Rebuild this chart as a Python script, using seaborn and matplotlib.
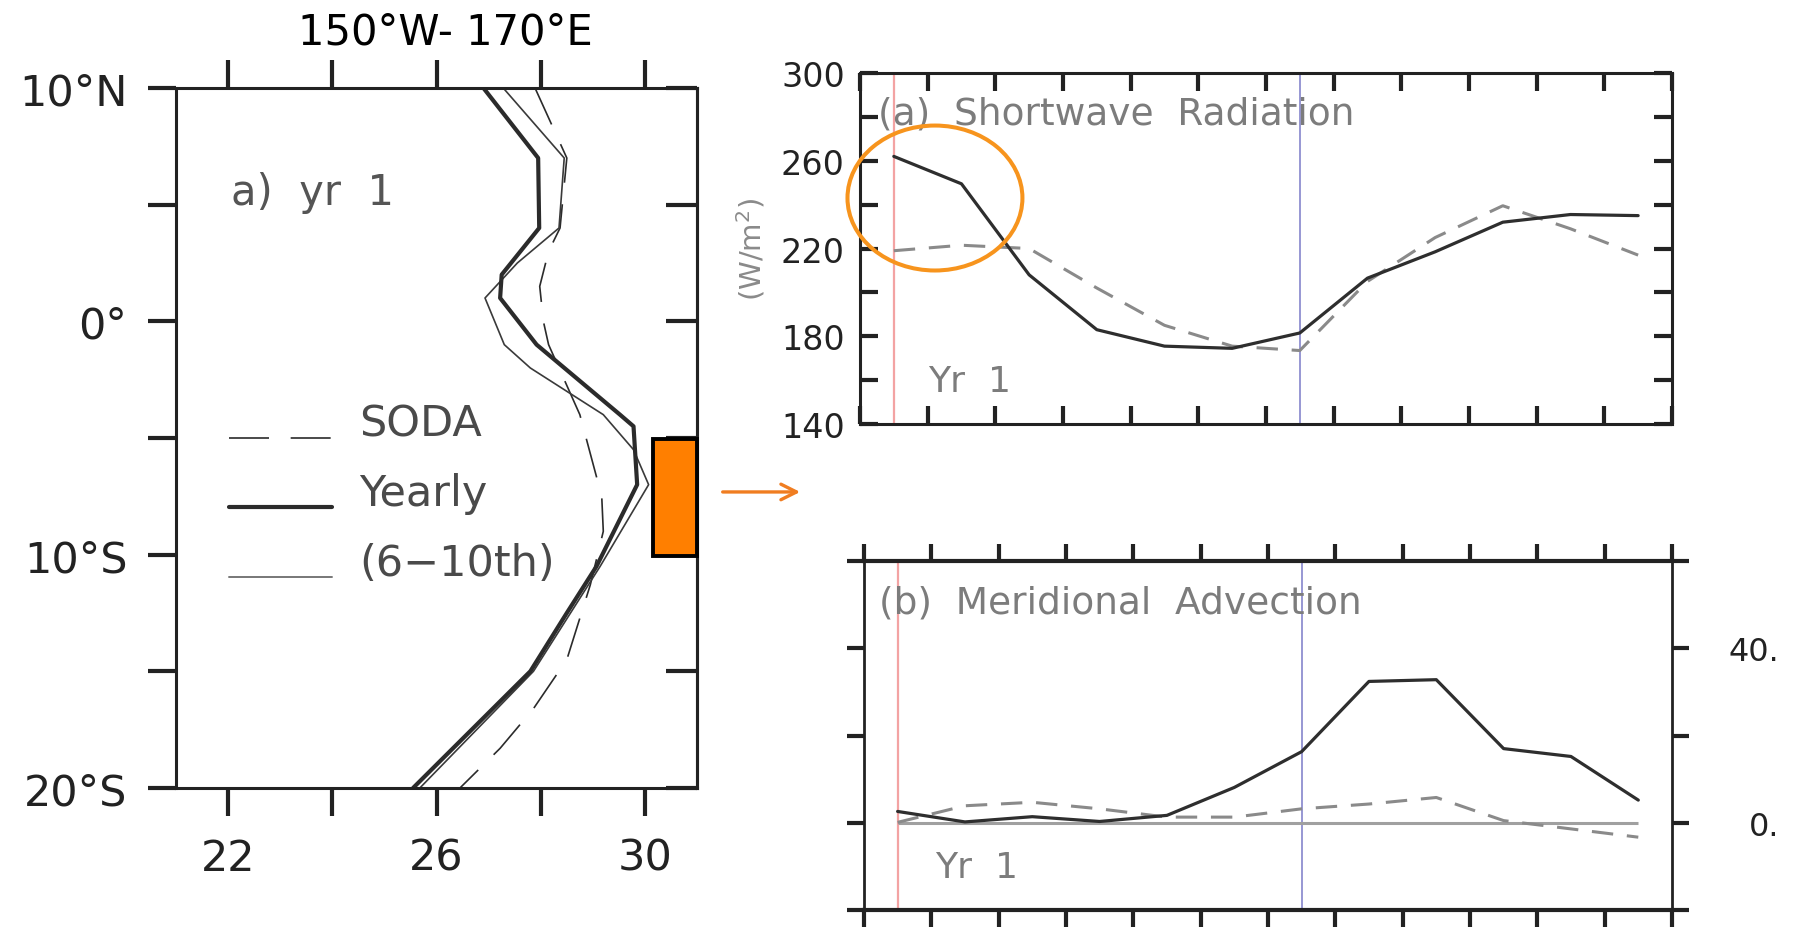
import numpy as np
import pandas as pd
import seaborn as sns
import matplotlib.pyplot as plt
from matplotlib.patches import Rectangle, Ellipse, FancyArrowPatch

# left panel: upper-ocean temperature along 150W-170E, by latitude
yearly_lat = [10, 7, 4, 2, 1, -1, -4, -4.5, -7, -10.5, -12.5, -15, -20]
yearly_sst = [26.9, 27.95, 27.97, 27.25, 27.22, 27.92, 29.52, 29.78, 29.85, 29.07, 28.5, 27.8, 25.55]
thin_lat = [10, 7, 4, 2.5, 1, -1, -2, -3, -4, -5.5, -7, -10.5, -15, -20]
thin_sst = [27.28, 28.45, 28.35, 27.55, 26.93, 27.3, 27.8, 28.5, 29.2, 29.78, 30.07, 29.14, 27.86, 25.68]
soda_lat = [10, 7, 4, 3, 1.5, 0, -1, -4, -7.5, -9, -11.3, -14.5, -16.6, -18.3, -20]
soda_sst = [27.89, 28.5, 28.37, 28.15, 27.98, 28.05, 28.15, 28.75, 29.17, 29.2, 28.95, 28.5, 27.86, 27.22, 26.45]
lat_ticks = [-20, -15, -10, -5, 0, 5, 10]
lat_labels = ['20°S', '', '10°S', '', '0°', '', '10°N']
sst_ticks = [22, 24, 26, 28, 30]
sst_labels = ['22', '', '26', '', '30']

# right panels: monthly values, year 1
months = [0.5, 1.5, 2.5, 3.5, 4.5, 5.5, 6.5, 7.5, 8.5, 9.5, 10.5, 11.5]
sw_model = [262, 249.5, 208, 183, 175.5, 174.5, 181.5, 206.5, 218.5, 232, 235.5, 235]
sw_soda = [219, 221.5, 220, 202, 185, 175.5, 173.5, 205, 225, 239.5, 229, 217]
adv_model = [2.6, 0.2, 1.4, 0.3, 1.7, 8.1, 16.3, 32.4, 32.8, 17.0, 15.2, 5.2]
adv_soda = [0.1, 3.9, 4.7, 3.2, 1.3, 1.3, 3.2, 4.3, 5.8, 0.5, -1.4, -3.3]
sw_ticks = [140, 160, 180, 200, 220, 240, 260, 280, 300]
sw_labels = ['140', '', '180', '', '220', '', '260', '', '300']
adv_ticks = [-20, 0, 20, 40, 60]
adv_labels = ['', '0.', '', '40.', '']

sns.set_style('white')
plt.rcParams['font.family'] = ['DejaVu Sans']

fig = plt.figure(figsize=(17.98, 9.37), dpi=100)
ax_l = fig.add_axes([0.0979, 0.1580, 0.2898, 0.7470])
ax_sw = fig.add_axes([0.4783, 0.5464, 0.4516, 0.3746])
ax_adv = fig.add_axes([0.4805, 0.0277, 0.4494, 0.3725])

dark = '#2b2b2b'
grey_txt = '#7c7c7c'
dash_l = (0, (24, 13))

# ---- left panel
sns.lineplot(x=soda_sst, y=soda_lat, sort=False, estimator=None, color=dark,
             lw=1.2, linestyle=dash_l, ax=ax_l, legend=False)
sns.lineplot(x=thin_sst, y=thin_lat, sort=False, estimator=None, color='#3a3a3a',
             lw=1.2, ax=ax_l, legend=False)
sns.lineplot(x=yearly_sst, y=yearly_lat, sort=False, estimator=None, color=dark,
             lw=3.0, ax=ax_l, legend=False)
ax_l.set_xlim(21, 31)
ax_l.set_ylim(-20, 10)
ax_l.set_xticks(sst_ticks)
ax_l.set_xticklabels(sst_labels)
ax_l.set_yticks(lat_ticks)
ax_l.set_yticklabels(lat_labels)
ax_l.set_xlabel('')
ax_l.set_ylabel('')
ax_l.tick_params(axis='x', direction='out', length=20, width=3, bottom=True, top=True,
                 labeltop=False, pad=15, labelsize=31, colors='#222')
ax_l.tick_params(axis='y', direction='out', length=20, width=3, left=True, right=False,
                 pad=15, labelsize=31, colors='#222')
sec = ax_l.secondary_yaxis('right')
sec.set_yticks(lat_ticks)
sec.tick_params(direction='in', length=22, width=3, labelright=False, colors='#222')
for s in ax_l.spines.values():
    s.set_linewidth(2.2)
    s.set_color('#222')
sec.spines['right'].set_linewidth(2.2)
sec.spines['right'].set_color('#222')

ax_l.text(0.105, 0.851, 'a)  yr  1', transform=ax_l.transAxes, fontsize=30,
          color='#555', ha='left', va='center')

# hand-made legend
leg = [('SODA', dict(lw=1.2, linestyle=dash_l, color=dark), 0.500),
       ('Yearly', dict(lw=3.0, color=dark), 0.401),
       ('(6\u221210th)', dict(lw=1.4, color='#777'), 0.301)]
for lab, kw, yy in leg:
    ax_l.plot([0.1017, 0.2994], [yy, yy], transform=ax_l.transAxes, **kw)
    ax_l.text(0.3512, yy + 0.021, lab, transform=ax_l.transAxes, fontsize=31,
              color='#4a4a4a', ha='left', va='center')

ax_l.add_patch(Rectangle((30.16, -10.05), 31 - 30.16, 5.0, facecolor='#ff7f00',
                         edgecolor='black', lw=2.8, clip_on=False, zorder=5))

fig.text(0.2475, 0.9658, '150°W- 170°E', ha='center', va='center', fontsize=30, color='black')

# ---- shortwave panel
ax_sw.axvline(months[0], color='#f3a3a3', lw=1.6, zorder=1)
ax_sw.axvline(months[6], color='#7a7ac8', lw=1.1, zorder=1)
sns.lineplot(x=months, y=sw_soda, color='#8a8a8a', lw=2.2, linestyle=(0, (7, 4.5)),
             ax=ax_sw, legend=False)
sns.lineplot(x=months, y=sw_model, color='#2e2e2e', lw=2.3, ax=ax_sw, legend=False)
ax_sw.set_xlim(0, 12)
ax_sw.set_ylim(140, 300)
ax_sw.set_xticks(range(0, 13))
ax_sw.set_xticklabels([])
ax_sw.set_yticks(sw_ticks)
ax_sw.set_yticklabels(sw_labels)
ax_sw.tick_params(axis='both', direction='in', length=13, width=3, bottom=True, top=True,
                  left=True, right=True, labelsize=24, pad=11, colors='#222')
for s in ax_sw.spines.values():
    s.set_linewidth(2.2)
    s.set_color('#222')
ax_sw.text(-0.134, 0.5, '(W/m$^2$)', transform=ax_sw.transAxes, rotation=90,
           fontsize=21, color='#8a8a8a', ha='center', va='center')
ax_sw.text(0.27, 281.4, '(a)  Shortwave  Radiation', fontsize=27, color=grey_txt,
           ha='left', va='center')
ax_sw.text(1.0, 159.5, 'Yr  1', fontsize=26, color=grey_txt, ha='left', va='center')

# ---- meridional advection panel
ax_adv.axvline(months[0], color='#f3a3a3', lw=1.6, zorder=1)
ax_adv.axvline(months[6], color='#7a7ac8', lw=1.1, zorder=1)
ax_adv.hlines(0, months[0], months[-1], color='#a0a0a0', lw=2.2, zorder=2)
sns.lineplot(x=months, y=adv_soda, color='#8a8a8a', lw=2.2, linestyle=(0, (7, 4.5)),
             ax=ax_adv, legend=False)
sns.lineplot(x=months, y=adv_model, color='#2e2e2e', lw=2.3, ax=ax_adv, legend=False)
ax_adv.set_xlim(0, 12)
ax_adv.set_ylim(-20, 60)
ax_adv.set_xticks(range(0, 13))
ax_adv.set_xticklabels([])
ax_adv.set_yticks(adv_ticks)
ax_adv.set_yticklabels(adv_labels)
ax_adv.tick_params(axis='both', direction='out', length=12, width=3, bottom=True, top=True,
                   left=True, right=True, labelleft=False, labelright=True,
                   labelsize=23, pad=65, colors='#222')
for t in ax_adv.yaxis.get_major_ticks():
    t.label2.set_horizontalalignment('right')
for side, s in ax_adv.spines.items():
    s.set_linewidth(3.0 if side in ('top', 'bottom') else 2.0)
    s.set_color('#222')
ax_adv.text(0.22, 50.6, '(b)  Meridional  Advection', fontsize=27, color=grey_txt,
            ha='left', va='center')
ax_adv.text(1.05, -10.1, 'Yr  1', fontsize=26, color=grey_txt, ha='left', va='center')

# orange highlights
fig.patches.append(Ellipse((0.520, 0.7876), 0.0973, 0.1547, transform=fig.transFigure,
                           fill=False, edgecolor='#f7941d', lw=2.9))
fig.patches.append(FancyArrowPatch((0.4004, 0.4739), (0.4466, 0.4739), transform=fig.transFigure,
                                   arrowstyle='->', mutation_scale=28, lw=2.4, color='#f07d21'))

fig.savefig('out.png', dpi=100)
